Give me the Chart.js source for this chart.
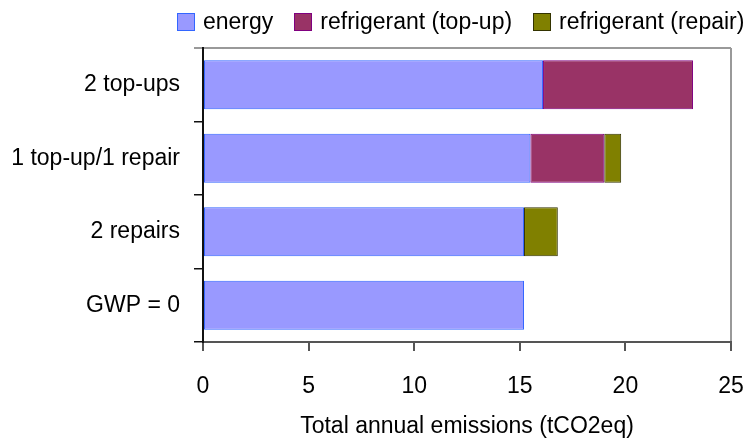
<!DOCTYPE html>
<html>
<head>
<meta charset="utf-8">
<script src="https://cdn.jsdelivr.net/npm/chart.js@4"></script>
<style>
  body { margin: 0; background: #fff; }
  #wrap { position: relative; width: 747px; height: 438px; }
  #legend { position: absolute; left: 177px; top: 0; height: 43px; display: flex; align-items: center;
            font-family: 'Liberation Sans', Arial, sans-serif; font-size: 23px; color: #000; }
  #legend .item { display: flex; align-items: center; margin-right: 21px; white-space: nowrap; }
  #legend .box { width: 16px; height: 16px; margin-right: 8px; border: 1px solid; }
</style>
</head>
<body>
<div id="wrap">
  <canvas id="chart" width="747" height="438"></canvas>
  <div id="legend"></div>
</div>
<script>
// categories, top to bottom
const scenarios = ['2 top-ups', '1 top-up/1 repair', '2 repairs', 'GWP = 0'];
const seriesNames = ['energy', 'refrigerant (top-up)', 'refrigerant (repair)'];

// values in tCO2eq (null = no segment)
const energy = [16.1, 15.5, 15.2, 15.2];
const refrigTopUp = [7.1, 3.5, null, null];
const refrigRepair = [null, 0.8, 1.6, null];

const xTicks = [0, 5, 10, 15, 20, 25];

const fillColors = ['#9999ff', '#993366', '#808000'];
const edgeColors = ['#3366ff', '#800080', '#333300'];

const FONT = "'Liberation Sans', Arial, sans-serif";
Chart.defaults.font.family = FONT;
Chart.defaults.font.size = 23;
Chart.defaults.color = '#000';

const seriesData = [energy, refrigTopUp, refrigRepair];

const ctx = document.getElementById('chart').getContext('2d');
const chart = new Chart(ctx, {
    type: 'bar',
    data: {
        labels: scenarios,
        datasets: seriesNames.map((name, i) => ({
            label: name,
            data: seriesData[i],
            backgroundColor: fillColors[i],
            borderColor: edgeColors[i],
            borderWidth: 1,
            borderSkipped: false,
            barPercentage: 0.667,
            categoryPercentage: 1
        }))
    },
    options: {
        indexAxis: 'y',
        responsive: false,
        animation: false,
        layout: { padding: { top: 48, right: 0, left: 0, bottom: 0 } },
        plugins: {
            legend: { display: false },
            tooltip: { enabled: false }
        },
        scales: {
            x: {
                stacked: true,
                min: 0,
                max: 25,
                afterBuildTicks: (scale) => { scale.ticks = xTicks.map(v => ({ value: v })); },
                afterFit: (scale) => {
                    scale.height = 96;
                    scale.paddingLeft = 0;
                    scale.paddingRight = 16;
                },
                ticks: { padding: 22, color: '#000' },
                border: { color: '#555', width: 2 },
                grid: {
                    color: (c) => (c.tick && c.tick.value === 25 ? '#999' : 'rgba(0,0,0,0)'),
                    tickColor: '#555',
                    tickLength: 9,
                    lineWidth: 2
                },
                title: {
                    display: true,
                    text: 'Total annual emissions (tCO2eq)',
                    color: '#000',
                    font: { size: 23, lineHeight: 1 },
                    padding: { top: 0, bottom: 0 }
                }
            },
            y: {
                stacked: true,
                afterFit: (scale) => { scale.width = 203; },
                ticks: { padding: 14, color: '#000' },
                border: { color: '#111', width: 2 },
                grid: {
                    offset: true,
                    color: (c) => (c.index === 0 ? '#999' : 'rgba(0,0,0,0)'),
                    tickColor: (c) => (c.index === 0 ? '#999' : '#111'),
                    tickLength: 9,
                    lineWidth: (c) => (c.index === 0 ? 2 : 1.5)
                }
            }
        }
    }
});

// legend built from the chart's datasets
const legendEl = document.getElementById('legend');
chart.data.datasets.forEach((ds) => {
    const item = document.createElement('div');
    item.className = 'item';
    const box = document.createElement('span');
    box.className = 'box';
    box.style.background = ds.backgroundColor;
    box.style.borderColor = ds.borderColor;
    const txt = document.createElement('span');
    txt.textContent = ds.label;
    item.appendChild(box);
    item.appendChild(txt);
    legendEl.appendChild(item);
});
</script>
</body>
</html>
